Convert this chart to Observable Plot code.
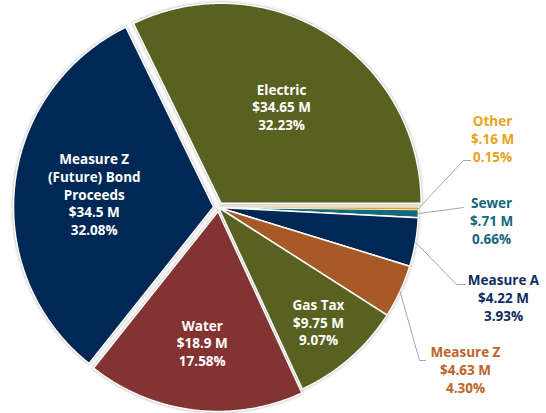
<!DOCTYPE html>
<html>
<head>
<meta charset="utf-8">
<script src="https://cdn.jsdelivr.net/npm/d3@7"></script>
<script src="https://cdn.jsdelivr.net/npm/@observablehq/plot@0.6"></script>
<style>
  html, body { margin: 0; padding: 0; background: #ffffff; }
  #chart { width: 546px; height: 413px; }
  g[aria-description="slices"] { filter: drop-shadow(0px 0px 1.5px rgba(0,0,0,0.35)); }
</style>
</head>
<body>
<div id="chart"></div>
<script>
// ---- Data ----
const categories = ["Electric", "Other", "Sewer", "Measure A", "Measure Z", "Gas Tax", "Water", "Measure Z (Future) Bond Proceeds"];
const valuesM = [34.65, 0.16, 0.71, 4.22, 4.63, 9.75, 18.9, 34.5];
const nameLabels = ["Electric", "Other", "Sewer", "Measure A", "Measure Z", "Gas Tax", "Water", "Measure Z\n(Future) Bond\nProceeds"];
const amountLabels = ["$34.65 M", "$.16 M", "$.71 M", "$4.22 M", "$4.63 M", "$9.75 M", "$18.9 M", "$34.5 M"];
const percentLabels = ["32.23%", "0.15%", "0.66%", "3.93%", "4.30%", "9.07%", "17.58%", "32.08%"];

// ---- Styles ----
const sliceColors = ["#586120", "#EBA514", "#136A7F", "#002855", "#A85A26", "#586120", "#833332", "#002855"];
const labelColors = ["#ffffff", "#E9A31A", "#17667D", "#0F2D5F", "#BD6429", "#ffffff", "#ffffff", "#ffffff"];

// ---- Layout (pie radius units) ----
const W = 546, H = 413, CX = 218, CY = 207, R = 200;
const START_DEG = -26;
const explodePx = [5, 0, 0, 0, 0, 0, 4, 5];
const insideLabelFrac = {"Electric": 0.57, "Gas Tax": 0.76, "Water": 0.66, "Measure Z (Future) Bond Proceeds": 0.6};
const outsideLayout = {
  "Other":     {label: [1.37, 0.345],   elbow: [1.225, 0.235], end: [1.26, 0.235]},
  "Sewer":     {label: [1.365, -0.065], elbow: [1.225, 0.0],   end: [1.225, 0.0]},
  "Measure A": {label: [1.425, -0.45],  elbow: [1.19, -0.385], end: [1.235, -0.385]},
  "Measure Z": {label: [1.235, -0.81],  elbow: [1.005, -0.765], end: [1.035, -0.765]}
};

const deg = Math.PI / 180;
const arcs = d3.pie().sort(null)
  .startAngle(START_DEG * deg).endAngle((START_DEG + 360) * deg)(valuesM);

const slicePts = [];
const insideLabels = [];
const outsideLabels = [];
const leaders = [];
arcs.forEach((a, i) => {
  const name = categories[i];
  const mid = (a.startAngle + a.endAngle) / 2;
  const off = explodePx[i] / R;
  const ox = off * Math.sin(mid), oy = off * Math.cos(mid);
  slicePts.push({name, x: ox, y: oy});
  const n = Math.max(2, Math.ceil((a.endAngle - a.startAngle) / (0.4 * deg)));
  for (let k = 0; k <= n; k++) {
    const t = a.startAngle + (a.endAngle - a.startAngle) * k / n;
    slicePts.push({name, x: ox + Math.sin(t), y: oy + Math.cos(t)});
  }
  slicePts.push({name, x: ox, y: oy});
  const text = nameLabels[i] + "\n" + amountLabels[i] + "\n" + percentLabels[i];
  if (insideLabelFrac[name] !== undefined) {
    const f = insideLabelFrac[name];
    insideLabels.push({name, text, x: ox + f * Math.sin(mid), y: oy + f * Math.cos(mid), color: labelColors[i]});
  } else {
    const L = outsideLayout[name];
    outsideLabels.push({name, text, x: L.label[0], y: L.label[1], color: labelColors[i]});
    leaders.push({name, x: ox + Math.sin(mid), y: oy + Math.cos(mid)});
    leaders.push({name, x: L.elbow[0], y: L.elbow[1]});
    leaders.push({name, x: L.end[0], y: L.end[1]});
  }
});

const fontFamily = "'Open Sans', sans-serif";
const chart = Plot.plot({
  width: W,
  height: H,
  margin: 0,
  style: {background: "#ffffff"},
  x: {domain: [-CX / R, (W - CX) / R], axis: null},
  y: {domain: [-(H - CY) / R, CY / R], axis: null},
  color: {domain: categories, range: sliceColors},
  marks: [
    Plot.line(slicePts, {x: "x", y: "y", z: "name", fill: "name", stroke: "#ffffff", strokeWidth: 1.5, strokeLinejoin: "round", curve: "linear", ariaDescription: "slices"}),
    Plot.line(slicePts.filter(d => d.name === "Other"), {x: "x", y: "y", z: "name", fill: "name", stroke: "none", curve: "linear"}),
    Plot.line(leaders, {x: "x", y: "y", z: "name", stroke: "#A6A6A6", strokeWidth: 1, curve: "linear"}),
    Plot.text(insideLabels, {x: "x", y: "y", text: "text", fill: "color", fontSize: 13.5, fontWeight: "bold", fontFamily, lineHeight: 1.31, textAnchor: "middle", lineAnchor: "middle"}),
    Plot.text(outsideLabels, {x: "x", y: "y", text: "text", fill: "color", fontSize: 13.5, fontWeight: "bold", fontFamily, lineHeight: 1.31, textAnchor: "middle", lineAnchor: "middle"})
  ]
});
document.getElementById("chart").appendChild(chart);
</script>
</body>
</html>
